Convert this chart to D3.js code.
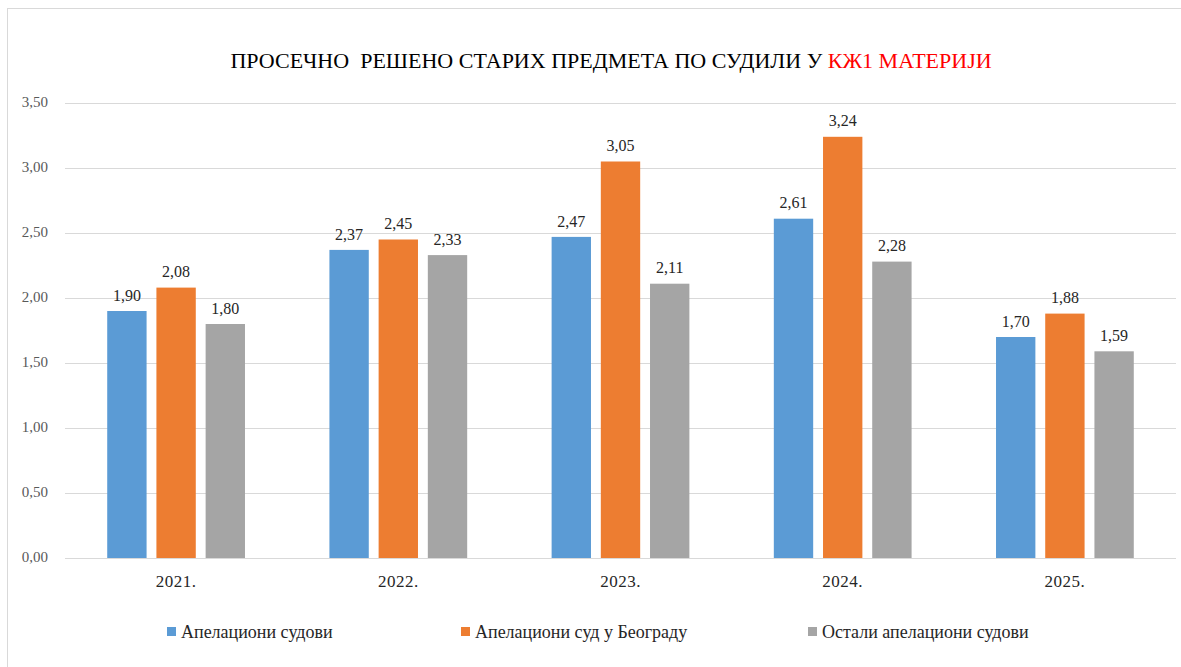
<!DOCTYPE html>
<html>
<head>
<meta charset="utf-8">
<script src="https://cdn.jsdelivr.net/npm/d3@7"></script>
<style>
	body { margin: 0; background: #fff; }
	#wrap { position: relative; width: 1181px; height: 667px; overflow: hidden; }
	#wrap svg { position: absolute; left: 0; top: 0; }
	.lab { position: absolute; line-height: 1; white-space: pre; color: #262626; }
</style>
</head>
<body>
<div id="wrap"><svg id="chart" width="1181" height="667"></svg></div>
<script>

var years = [ "2021.", "2022.", "2023.", "2024.", "2025." ];
var seriesNames = [ "Апелациони судови", "Апелациони суд у Београду", "Остали апелациони судови" ];
var apelacioni = [ 1.90, 2.37, 2.47, 2.61, 1.70 ];
var beograd = [ 2.08, 2.45, 3.05, 3.24, 1.88 ];
var ostali = [ 1.80, 2.33, 2.11, 2.28, 1.59 ];
var yTicks = [ 0, 0.5, 1, 1.5, 2, 2.5, 3, 3.5 ];

var colors = [ "#5B9BD5", "#ED7D31", "#A5A5A5" ];
var values = [ apelacioni, beograd, ostali ];

var wrap = d3.select("#wrap");
var svg = d3.select("#chart");
var [ mT, mR, mB, mL ] = [ 103, 5, 109, 65 ];		// plot area margins
var width = 1181, height = 667;

// html text: anchor at baseline (~0.8375em from top with line-height 1)
function label(x, base, size, anchor, txt)	{
	var tx = anchor === "middle" ? "-50%" : anchor === "end" ? "-100%" : "0";
	var d = wrap.append("div")
		.attr("class", "lab")
		.style("left", x + "px")
		.style("top", (base - 0.8375 * size) + "px")
		.style("transform", `translateX(${tx})`)
		.text(txt);
	d.node().style.fontFamily = "'Liberation Serif', monospace";
	d.node().style.fontSize = size + "px";
	return d;
}

// outer frame (runs off the right/bottom edge like the source)
svg.append("rect")
	.attr("x", 7.5).attr("y", 8.5)
	.attr("width", 1200).attr("height", 700)
	.attr("fill", "none")
	.attr("stroke", "#D9D9D9");

var fmt = v => v.toFixed(2).replace(".", ",");

var x0 = d3.scaleBand(years, [ mL, width - mR ])
	.paddingInner(0.38)
	.paddingOuter(0.19);
var x1 = d3.scaleBand(d3.range(3), [ 0, x0.bandwidth() ])
	.paddingInner(0.2);
var y = d3.scaleLinear([ 0, 3.5 ], [ height - mB, mT ]);

// grid
svg.append("g")
	.selectAll("line")
	.data(yTicks)
	.join("line")
	.attr("x1", mL).attr("x2", width - mR)
	.attr("y1", d => Math.round(y(d)) + 0.5)
	.attr("y2", d => Math.round(y(d)) + 0.5)
	.attr("stroke", "#D9D9D9");

// y labels
yTicks.forEach(t => label(48, y(t) + 5, 15, "end", fmt(t)).style("color", "#595959"));

// bars
var bars = [];
years.forEach((yr, i) => values.forEach((s, k) => bars.push({ yr: yr, k: k, v: s[i] })));

svg.append("g")
	.selectAll("rect")
	.data(bars)
	.join("rect")
	.attr("x", d => x0(d.yr) + x1(d.k))
	.attr("y", d => y(d.v))
	.attr("width", x1.bandwidth())
	.attr("height", d => y(0) - y(d.v))
	.attr("fill", d => colors[d.k]);

bars.forEach(d => label(x0(d.yr) + x1(d.k) + x1.bandwidth() / 2, y(d.v) - 10, 16, "middle", fmt(d.v)));

// x labels
years.forEach(yr => label(x0(yr) + x0.bandwidth() / 2, height - mB + 29, 17, "middle", yr).style("letter-spacing", "0.5px"));

// title
var title = label(611, 68, 22, "middle", "ПРОСЕЧНО  РЕШЕНО СТАРИХ ПРЕДМЕТА ПО СУДИЛИ У ").style("color", "#000");
title.append("span").style("color", "#FF0000").text("КЖ1 МАТЕРИЈИ");

// legend
var legX = [ 167, 461, 808 ];
seriesNames.forEach((s, i) => {
	svg.append("rect")
		.attr("x", legX[i]).attr("y", 627)
		.attr("width", 9).attr("height", 9)
		.attr("fill", colors[i]);
	label(legX[i] + 14, 638, 18, "start", s);
});

</script>
</body>
</html>
